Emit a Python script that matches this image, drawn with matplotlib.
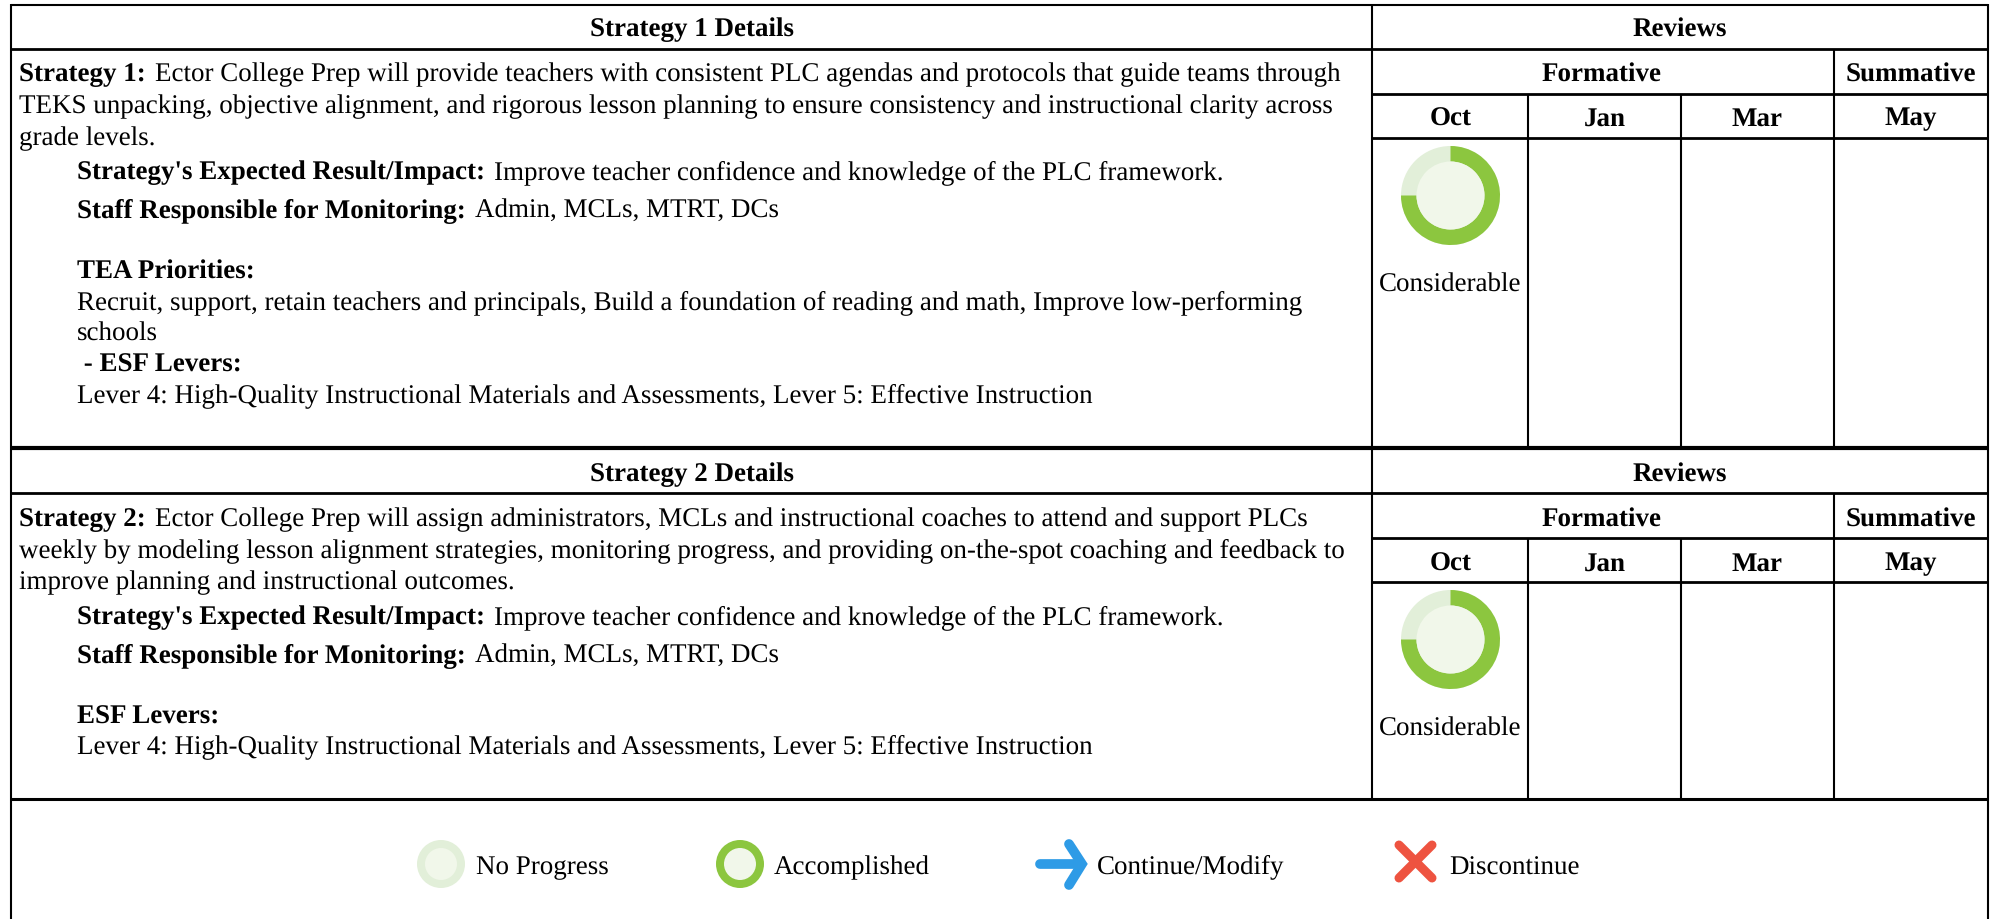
import matplotlib
matplotlib.use("Agg")
import matplotlib.pyplot as plt
from matplotlib.patches import Circle, Wedge

plt.rcParams['font.family'] = ['Liberation Serif', 'DejaVu Serif']
plt.rcParams['text.hinting'] = 'no_hinting'

W, H = 1997, 919
FS = 19.42
BLACK = "#000000"
GREEN = "#8CC63F"
PALE = "#E2EFD9"
INNER = "#F1F7EA"
BLUE = "#2E9BE6"
RED = "#EE5340"

# table text
detail_titles = ["Strategy 1 Details", "Strategy 2 Details"]
review_title = "Reviews"
group_labels = ["Formative", "Summative"]
month_labels = ["Oct", "Jan", "Mar", "May"]
review_labels = ["Considerable", "Considerable"]
review_percent = [75, 75]

# (bold part, regular part, x, baseline)
strategy1_lines = [
    ("Strategy 1:", " Ector College Prep will provide teachers with consistent PLC agendas and protocols that guide teams through", 19, 81),
    ("", "TEKS unpacking, objective alignment, and rigorous lesson planning to ensure consistency and instructional clarity across", 19, 113),
    ("", "grade levels.", 19, 145),
    ("Strategy's Expected Result/Impact:", " Improve teacher confidence and knowledge of the PLC framework.", 77, 179),
    ("Staff Responsible for Monitoring:", " Admin, MCLs, MTRT, DCs", 77, 217),
    ("TEA Priorities:", "", 77, 279),
    ("", "Recruit, support, retain teachers and principals, Build a foundation of reading and math, Improve low-performing", 77, 309),
    ("", "schools", 77, 341),
    (" - ESF Levers:", "", 77, 372),
    ("", "Lever 4: High-Quality Instructional Materials and Assessments, Lever 5: Effective Instruction", 77, 402),
]
strategy2_lines = [
    ("Strategy 2:", " Ector College Prep will assign administrators, MCLs and instructional coaches to attend and support PLCs", 19, 526),
    ("", "weekly by modeling lesson alignment strategies, monitoring progress, and providing on-the-spot coaching and feedback to", 19, 557),
    ("", "improve planning and instructional outcomes.", 19, 589),
    ("Strategy's Expected Result/Impact:", " Improve teacher confidence and knowledge of the PLC framework.", 77, 624),
    ("Staff Responsible for Monitoring:", " Admin, MCLs, MTRT, DCs", 77, 662),
    ("ESF Levers:", "", 77, 724),
    ("", "Lever 4: High-Quality Instructional Materials and Assessments, Lever 5: Effective Instruction", 77, 753),
]
legend_labels = ["No Progress", "Accomplished", "Continue/Modify", "Discontinue"]
legend_baselines = [874, 874, 873, 875]

# grid geometry in pixels
x_left, x_split, x_oct, x_jan, x_mar, x_right = 11.5, 1372, 1528.5, 1681, 1834, 1988
block_tops = [5, 449]
block_bottoms = [447, 798.5]
row_offsets = [44, 88.5, 132.5]
header_shift = [1.5, 2.5]

fig = plt.figure(figsize=(W / 100, H / 100), dpi=100)
ax = fig.add_axes([0, 0, 1, 1])
ax.set_xlim(0, W)
ax.set_ylim(H, 0)
ax.axis("off")


def hline(y, x0=x_left, x1=x_right, lw=1.5):
    ax.plot([x0, x1], [y, y], color=BLACK, lw=lw, solid_capstyle="butt")


def vline(x, y0, y1, lw=1.5):
    ax.plot([x, x], [y0, y1], color=BLACK, lw=lw, solid_capstyle="butt")


def mixed_line(bold, regular, x, y):
    # bold run first, the regular run starts where it ends
    if bold:
        t = ax.text(x, y, bold, fontsize=FS, fontweight="bold", va="baseline", ha="left")
        box = t.get_window_extent(fig.canvas.get_renderer())
        x = box.x1
        if regular:
            x += 9
    if regular:
        ax.text(x, y, regular.strip(), fontsize=FS, va="baseline", ha="left")


def center_bold(x, y, s):
    ax.text(x, y, s, fontsize=FS, fontweight="bold", va="baseline", ha="center")


def donut(cx, cy, percent):
    sweep = 360 * percent / 100
    ax.add_patch(Circle((cx, cy), 49.5, color=PALE, lw=0))
    # y axis runs down, so angles grow clockwise on screen
    ax.add_patch(Wedge((cx, cy), 49.5, -90, -90 + sweep, width=15.5, color=GREEN, lw=0))
    ax.add_patch(Circle((cx, cy), 34, color=INNER, lw=0))


# outer frame and the two blocks
hline(5)
hline(798.5, lw=2.2)
hline(447.5, lw=3)
vline(x_left, 4, H)
vline(x_right, 4, H)

for top, bottom, title, label, pct, dy in zip(block_tops, block_bottoms, detail_titles, review_labels, review_percent, header_shift):
    hline(top + row_offsets[0], lw=2)
    hline(top + row_offsets[1], x0=x_split, lw=2)
    hline(top + row_offsets[2], x0=x_split, lw=2)
    vline(x_split, top, bottom)
    vline(x_oct, top + row_offsets[1], bottom)
    vline(x_jan, top + row_offsets[1], bottom)
    vline(x_mar, top + row_offsets[0], bottom)

    center_bold((x_left + x_split) / 2, top + 30 + dy, title)
    center_bold((x_split + x_right) / 2, top + 30 + dy, review_title)
    center_bold((x_split + x_mar) / 2 - 1.5, top + 75 + dy, group_labels[0])
    center_bold((x_mar + x_right) / 2, top + 75 + dy, group_labels[1])
    edges = [x_split, x_oct, x_jan, x_mar, x_right]
    for i, m in enumerate(month_labels):
        center_bold((edges[i] + edges[i + 1]) / 2, top + 119 + dy, m)

    donut(1450.5, top + 190.5, pct)
    ax.text(1450.5, top + 287, label, fontsize=FS, va="baseline", ha="center")

for line in strategy1_lines + strategy2_lines:
    mixed_line(*line)

# legend
ax.add_patch(Circle((441, 864), 24, color=PALE, lw=0))
ax.add_patch(Circle((441, 864), 16, color=INNER, lw=0))
ax.add_patch(Circle((740, 864), 24, color=GREEN, lw=0))
ax.add_patch(Circle((740, 864), 16, color=INNER, lw=0))
ax.plot([1040, 1080], [864, 864], color=BLUE, lw=7, solid_capstyle="round")
ax.plot([1069, 1082, 1069], [844, 864, 885], color=BLUE, lw=7, solid_capstyle="round", solid_joinstyle="miter")
ax.plot([1399, 1432], [845, 878], color=RED, lw=6.5, solid_capstyle="round")
ax.plot([1399, 1432], [878, 845], color=RED, lw=6.5, solid_capstyle="round")
for x, y, s in zip([476, 774, 1097, 1449], legend_baselines, legend_labels):
    ax.text(x, y, s, fontsize=FS, va="baseline", ha="left")

fig.savefig("out.png", dpi=100)
